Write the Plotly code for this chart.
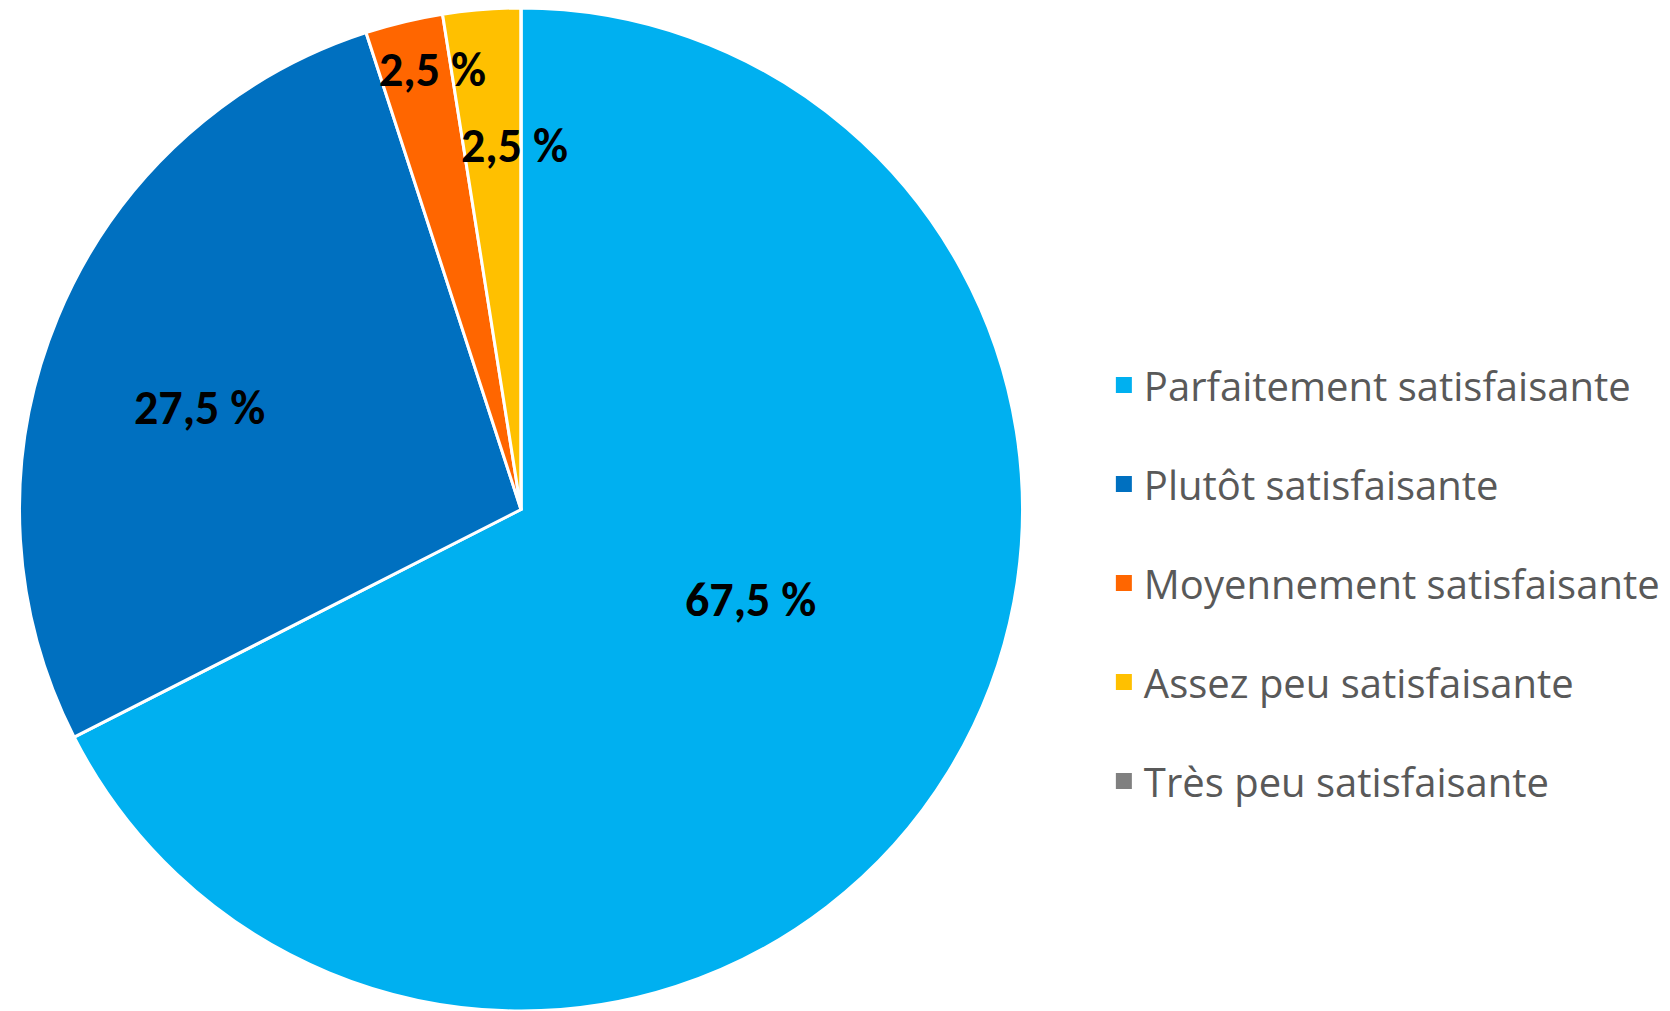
import math
import plotly.graph_objects as go

# ---- data ----
categories = ["Parfaitement satisfaisante", "Plutôt satisfaisante",
              "Moyennement satisfaisante", "Assez peu satisfaisante",
              "Très peu satisfaisante"]
values = [67.5, 27.5, 2.5, 2.5, 0.0]
label_texts = ["67,5 %", "27,5 %", "2,5 %", "2,5 %", ""]

# ---- style ----
colors = ["#00B0F0", "#0070C0", "#FF6600", "#FFC000", "#808080"]
label_radius = [0.491, 0.672, 0.896, 0.726, 0.7]       # fraction of radius
label_angle_shift = [-10.1, -4.8, 2.1, 3.4, 0.0]        # degrees from slice mid-angle

W, H = 1670, 1011
MT, MB, ML, MR = 8, 0, 0, 0
dom_x = [18 / W, 1024 / W]
dom_y = [0.0, 1.0]
plot_w = W - ML - MR
plot_h = H - MT - MB

fig = go.Figure()
fig.add_trace(go.Pie(
    labels=categories,
    values=values,
    sort=False,
    direction="clockwise",
    rotation=0,
    marker=dict(colors=colors, line=dict(color="white", width=3)),
    textinfo="none",
    hoverinfo="label+percent",
    domain=dict(x=dom_x, y=dom_y),
    showlegend=False,
))

# legend entries (one per category, same colours as the slices)
for i, (cat, col) in enumerate(zip(categories, colors)):
    fig.add_trace(go.Scatter(
        x=[None], y=[None], mode="markers", name=cat,
        legendgroup="g%d" % i,
        marker=dict(symbol="square", size=19, color=col),
        hoverinfo="skip",
    ))

# label positions derived from slice geometry
r_px = min((dom_x[1] - dom_x[0]) * plot_w, (dom_y[1] - dom_y[0]) * plot_h) / 2
cx_px = (dom_x[0] + dom_x[1]) / 2 * plot_w
cy_px = (dom_y[0] + dom_y[1]) / 2 * plot_h  # from bottom of plot area
total = sum(values)
cum = 0.0
annotations = []
for v, txt, rf, sh in zip(values, label_texts, label_radius, label_angle_shift):
    mid = (cum + v / 2) / total * 360 + sh
    cum += v
    if not txt:
        continue
    th = math.radians(mid)
    x = (cx_px + r_px * rf * math.sin(th)) / plot_w
    y = (cy_px + r_px * rf * math.cos(th)) / plot_h
    annotations.append(dict(
        x=x, y=y, xref="paper", yref="paper", text="<b>%s</b>" % txt,
        showarrow=False, xanchor="center", yanchor="middle",
        font=dict(family="Carlito, Lato, sans-serif", size=48, color="black"),
    ))

fig.update_layout(
    width=W, height=H,
    margin=dict(l=ML, r=MR, t=MT, b=MB, pad=0),
    paper_bgcolor="white",
    plot_bgcolor="white",
    xaxis=dict(visible=False),
    yaxis=dict(visible=False),
    annotations=annotations,
    showlegend=True,
    legend=dict(
        x=0.661, y=(H - 583 - MB) / plot_h, xanchor="left", yanchor="middle",
        traceorder="grouped", tracegroupgap=44,
        font=dict(family="Open Sans, sans-serif", size=40, color="#595959"),
        bgcolor="rgba(0,0,0,0)",
    ),
)

fig.write_html("out.html", config={"displayModeBar": False},
               post_script="document.body.style.margin='0';")
